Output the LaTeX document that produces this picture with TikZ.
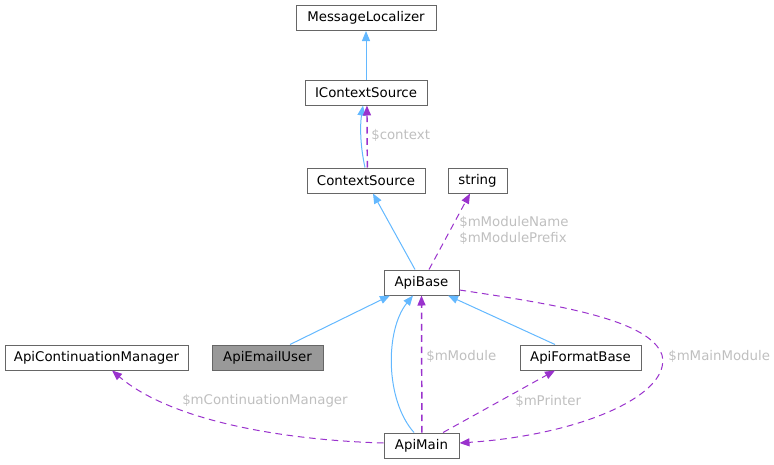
\documentclass[tikz,border=0pt]{standalone}
\usepackage{fontspec}
\setmainfont{DejaVu Sans}
\usetikzlibrary{arrows.meta}
\definecolor{edgeblue}{HTML}{63B8FF}
\definecolor{edgepurple}{HTML}{9A32CD}
\definecolor{boxgray}{HTML}{666666}
\definecolor{labelgray}{HTML}{BFBFBF}
\definecolor{fillgray}{HTML}{999999}
\tikzset{
    cls/.style = { draw=boxgray, line width=0.75pt, inner sep=0pt, minimum height=18.75pt },
    inherit/.style = { edgeblue, line width=0.75pt, -{Triangle[length=7.5pt, width=6pt]} },
    uses/.style = { edgepurple, line width=0.75pt, dash pattern=on 5pt off 3.5pt, -{Triangle[length=7.5pt, width=6pt]} },
    member/.style = { text=labelgray, inner sep=0pt, anchor=west, align=left }
}

\begin{document}
\begin{tikzpicture}[x=0.75pt, y=-0.75pt]
    %%% One unit is one pixel of the 774x464 picture, y runs downwards.
    \useasboundingbox (0,0) rectangle (774,464);

    %%%
    %%% Classes
    %%%
    % Name, centre x, centre y, width, text
    \foreach \name / \x / \y / \w / \txt in {msgloc/366/18/105pt/MessageLocalizer,
        icontext/366/92.5/91.5pt/IContextSource, ctxsrc/366/180.5/88.5pt/ContextSource,
        string/477.5/180.5/44.25pt/string, apibase/421.5/282.5/56.25pt/ApiBase,
        contmgr/96.5/357.5/137.25pt/ApiContinuationManager,
        fmtbase/580.5/357.5/90.75pt/ApiFormatBase, apimain/421.5/445.5/56.25pt/ApiMain}
      {
        \node[cls, minimum width=\w] (\name) at (\x,\y) {\txt};
      }
    % The documented class
    \node[cls, fill=fillgray, minimum width=83.25pt] (emailuser) at (267.5,357.5) {ApiEmailUser};

    %%%
    %%% Inheritance
    %%%
    \draw[inherit] (icontext) -- (msgloc);
    \draw[inherit] ([xshift=-0.75pt]ctxsrc.north) .. controls (360,145) and (360,125) .. ([xshift=-2.25pt]icontext.south);
    \draw[inherit] ([xshift=-4.875pt]apibase.north) -- ([xshift=5.25pt]ctxsrc.south);
    \draw[inherit] ([xshift=16.875pt]emailuser.north) -- ([xshift=-23.625pt]apibase.south);
    \draw[inherit] ([xshift=-5.625pt]apimain.north) .. controls (385,400) and (385,330) .. ([xshift=-6.375pt]apibase.south);
    \draw[inherit] ([xshift=-19.125pt]fmtbase.north) -- ([xshift=19.875pt]apibase.south);

    %%%
    %%% Members
    %%%
    \draw[uses, line width=1.1pt] ([xshift=1pt]ctxsrc.north) -- ([xshift=0.7pt]icontext.south);
    \node[member] (lcontext) at (371,135) {\$context};
    \draw[uses] ([xshift=5.625pt]apibase.north) -- ([xshift=-5.625pt]string.south);
    \node[member] (lmodname) at (459,230.5) {\$mModuleName\\\$mModulePrefix};
    \draw[uses, line width=1.1pt] ([xshift=0.3pt]apimain.north) -- ([xshift=0pt]apibase.south);
    \node[member] (lmodule) at (426,356) {\$mModule};
    \draw[uses] ([xshift=16.125pt]apimain.north) -- ([xshift=-19.125pt]fmtbase.south);
    \node[member] (lprinter) at (515,401) {\$mPrinter};
    \draw[uses] ([yshift=-5.625pt]apibase.east) .. controls (560,305) and (650,320) .. (662,355)
        .. controls (672,395) and (580,435) .. ([yshift=1.875pt]apimain.east);
    \node[member] (lmainmod) at (668,356) {\$mMainModule};
    \draw[uses] ([yshift=1.875pt]apimain.west) .. controls (280,440) and (170,420) .. ([xshift=11.625pt]contmgr.south);
    \node[member] (lcontmgr) at (182,401) {\$mContinuationManager};
\end{tikzpicture}
\end{document}
